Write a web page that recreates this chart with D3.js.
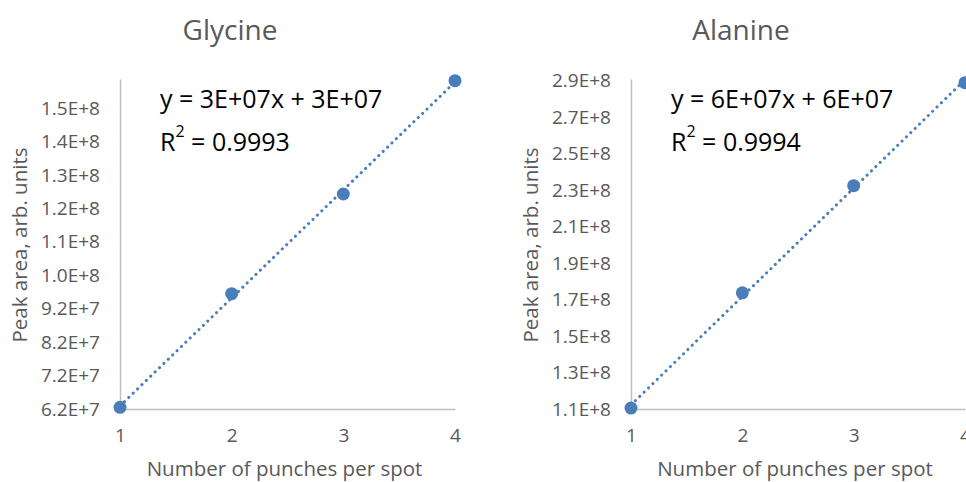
<!DOCTYPE html>
<html lang="en">
<head>
<meta charset="utf-8">
<script src="https://d3js.org/d3.v7.min.js"></script>
<style type="text/css">
body {
	margin: 0;
	background: white;
	font-family: "Open Sans", sans-serif;
}
</style>
</head>
<body>
<script type="text/javascript">

// data
var punches = [1, 2, 3, 4];
var glycine = [6.25e7, 9.65e7, 1.263e8, 1.602e8];
var alanine = [1.105e8, 1.737e8, 2.325e8, 2.89e8];

var glycineTicks = [6.2e7, 7.2e7, 8.2e7, 9.2e7, 10.2e7, 11.2e7, 12.2e7, 13.2e7, 14.2e7, 15.2e7];
var alanineTicks = [1.1e8, 1.3e8, 1.5e8, 1.7e8, 1.9e8, 2.1e8, 2.3e8, 2.5e8, 2.7e8, 2.9e8];

var charts = [
	{title: "Glycine", values: glycine, ticks: glycineTicks, yMax: 1.607e8,
	 eq: "y = 3E+07x + 3E+07", r2: "0.9993", left: 120, right: 455},
	{title: "Alanine", values: alanine, ticks: alanineTicks, yMax: 2.91e8,
	 eq: "y = 6E+07x + 6E+07", r2: "0.9994", left: 631, right: 965}
];

var width = 966;
var height = 482;
var plotTop = 79, plotBottom = 409;
var blue = "#4a7ebb";
var grey = "#595959";

var svg = d3.select("body")
	.append("svg")
	.attr("width", width)
	.attr("height", height);

var fmt = function(d) { return d3.format(".1e")(d).replace("e", "E"); };

charts.forEach(function(c) {
	var x = d3.scaleLinear().domain([1, 4]).range([c.left, c.right]);
	var y = d3.scaleLinear().domain([c.ticks[0], c.yMax]).range([plotBottom, plotTop]);
	var g = svg.append("g");

	// title
	g.append("text")
		.attr("x", c.left + 110)
		.attr("y", 40)
		.attr("text-anchor", "middle")
		.style("font-size", "28px")
		.style("fill", grey)
		.text(c.title);

	// y axis
	var yAxis = g.append("g")
		.attr("transform", "translate(" + c.left + ",0)")
		.call(d3.axisLeft(y).tickValues(c.ticks).tickFormat(fmt).tickSize(0).tickPadding(20));
	yAxis.select(".domain").attr("stroke", "#bfbfbf").attr("stroke-width", 1.5);
	yAxis.selectAll(".tick text")
		.attr("font-size", 19)
		.attr("font-family", "Open Sans")
		.attr("fill", grey);

	// x axis
	var xAxis = g.append("g")
		.attr("transform", "translate(0," + plotBottom + ")")
		.call(d3.axisBottom(x).tickValues(punches).tickFormat(d3.format("d")).tickSize(0).tickPadding(20));
	xAxis.select(".domain").attr("stroke", "#bfbfbf").attr("stroke-width", 1.5);
	xAxis.selectAll(".tick text")
		.attr("font-size", 19)
		.attr("font-family", "Open Sans")
		.attr("fill", grey);

	// axis titles
	g.append("text")
		.attr("x", (c.left + c.right) / 2 - 3)
		.attr("y", 476)
		.attr("text-anchor", "middle")
		.style("font-size", "20.5px")
		.style("fill", grey)
		.text("Number of punches per spot");

	g.append("text")
		.attr("transform", "translate(" + (c.left - 93) + ",245) rotate(-90)")
		.attr("text-anchor", "middle")
		.style("font-size", "20.5px")
		.style("fill", grey)
		.text("Peak area, arb. units");

	// linear trendline
	var mx = d3.mean(punches), my = d3.mean(c.values);
	var sxy = d3.sum(punches, function(p, i) { return (p - mx) * (c.values[i] - my); });
	var sxx = d3.sum(punches, function(p) { return (p - mx) * (p - mx); });
	var slope = sxy / sxx, icpt = my - slope * mx;
	g.append("line")
		.attr("x1", x(1)).attr("y1", y(icpt + slope))
		.attr("x2", x(4)).attr("y2", y(icpt + slope * 4))
		.attr("stroke", blue)
		.attr("stroke-width", 3)
		.attr("stroke-linecap", "round")
		.attr("stroke-dasharray", "0.1 6");

	// points
	g.selectAll("circle")
		.data(c.values)
		.enter()
		.append("circle")
		.attr("cx", function(d, i) { return x(punches[i]); })
		.attr("cy", function(d) { return y(d); })
		.attr("r", 6.5)
		.style("fill", blue);

	// equation
	g.append("text")
		.attr("x", c.left + 40)
		.attr("y", 108)
		.style("font-size", "25px")
		.style("fill", "black")
		.text(c.eq);
	var r = g.append("text")
		.attr("x", c.left + 40)
		.attr("y", 151)
		.style("font-size", "25px")
		.style("fill", "black");
	r.append("tspan").text("R");
	r.append("tspan").attr("dy", -14).style("font-size", "16px").text("2");
	r.append("tspan").attr("dy", 14).text(" = " + c.r2);
});

</script>
</body>
</html>
